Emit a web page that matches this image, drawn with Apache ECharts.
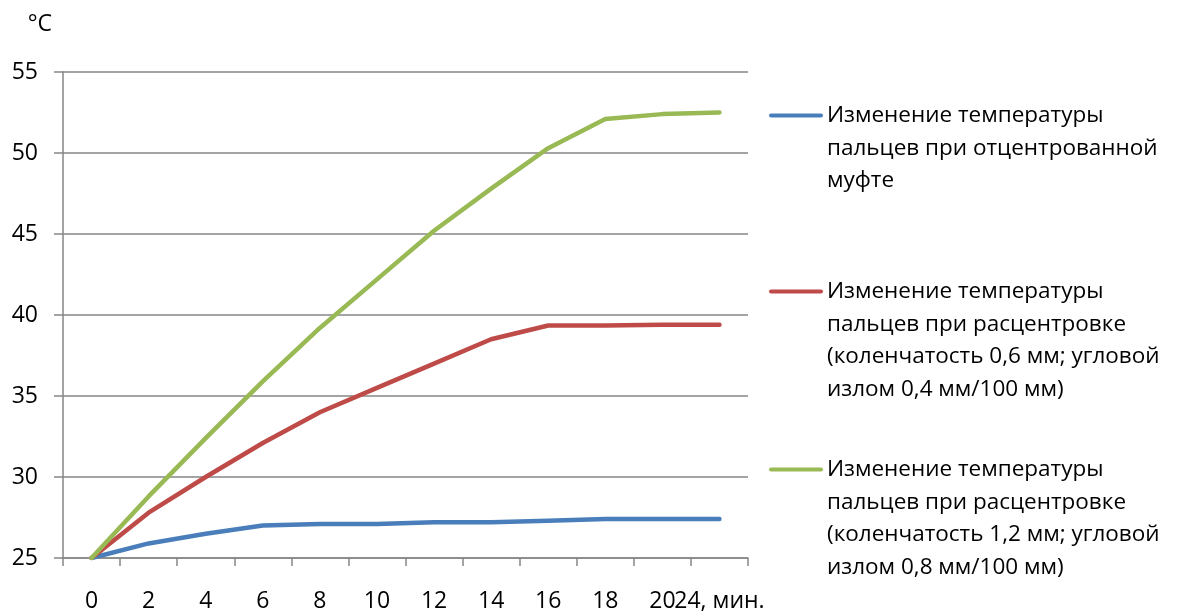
<!DOCTYPE html>
<html>
<head>
<meta charset="utf-8">
<script src="https://cdn.jsdelivr.net/npm/echarts@6/dist/echarts.min.js"></script>
<style>html,body{margin:0;padding:0;background:#fff}#c{width:1180px;height:613px}</style>
</head>
<body>
<div id="c"></div>
<script>
const categories = ['0','2','4','6','8','10','12','14','16','18','20','24, мин.'];
const centered = [25, 25.9, 26.5, 27.0, 27.1, 27.1, 27.2, 27.2, 27.3, 27.4, 27.4, 27.4];
const misaligned06 = [25, 27.8, 30.0, 32.1, 34.0, 35.5, 37.0, 38.5, 39.35, 39.35, 39.4, 39.4];
const misaligned12 = [25, 28.8, 32.4, 35.9, 39.2, 42.2, 45.2, 47.8, 50.3, 52.1, 52.4, 52.5];
const seriesNames = [
  'Изменение температуры\nпальцев при отцентрованной\nмуфте',
  'Изменение температуры\nпальцев при расцентровке\n(коленчатость 0,6 мм; угловой\nизлом 0,4 мм/100 мм)',
  'Изменение температуры\nпальцев при расцентровке\n(коленчатость 1,2 мм; угловой\nизлом 0,8 мм/100 мм)'
];
const colors = ['#4a7ebb', '#be4b48', '#98b954'];
const yTicks = {min: 25, max: 55, interval: 5};

const FONT = 'Open Sans';
const FS_LEG = 22.5;
const FS_AX = 23;
const LH = 32.7;

function legendFor(i, top) {
  const key = 'm' + i;
  const rich = {
    t: {fontFamily: FONT, fontSize: FS_LEG, lineHeight: LH, color: '#000'},
    sp: {width: 58, height: 4, lineHeight: LH}
  };
  rich[key] = {width: 54, height: 4, backgroundColor: colors[i], borderRadius: 2, lineHeight: LH};
  rich.g = {width: 4, lineHeight: LH};
  return {
    data: [seriesNames[i]],
    left: 764,
    top: top,
    orient: 'vertical',
    icon: 'none',
    itemWidth: 0,
    itemHeight: 0,
    itemGap: 0,
    selectedMode: false,
    padding: 0,
    textStyle: {rich: rich, padding: 0},
    formatter: function (name) {
      const lines = name.split('\n');
      return lines.map(function (l, j) {
        return (j === 0 ? '{' + key + '|}{g|}' : '{sp|}') + '{t|' + l + '}';
      }).join('\n');
    }
  };
}

const chart = echarts.init(document.getElementById('c'), null, {renderer: 'canvas'});
chart.setOption({
  animation: false,
  backgroundColor: '#fff',
  grid: {left: 63, right: 432, top: 72, bottom: 55, containLabel: false},
  legend: [legendFor(0, 104), legendFor(1, 280), legendFor(2, 458)],
  xAxis: {
    type: 'category',
    data: categories,
    boundaryGap: true,
    axisLine: {lineStyle: {color: '#868686', width: 1.5}},
    axisTick: {show: true, length: 8, lineStyle: {color: '#868686', width: 1.5}},
    axisLabel: {interval: 0, margin: 32, color: '#000', fontFamily: FONT, fontSize: FS_AX}
  },
  yAxis: {
    type: 'value',
    min: yTicks.min, max: yTicks.max, interval: yTicks.interval,
    name: '°C',
    nameLocation: 'end',
    nameGap: 36,
    nameTextStyle: {color: '#000', fontFamily: FONT, fontSize: FS_AX, align: 'right', padding: [0, 11, 0, 0]},
    axisLine: {show: true, lineStyle: {color: '#868686', width: 1.5}},
    axisTick: {show: true, length: 9, lineStyle: {color: '#868686', width: 1.5}},
    splitLine: {show: true, lineStyle: {color: '#868686', width: 1.5}},
    axisLabel: {margin: 25, color: '#000', fontFamily: FONT, fontSize: FS_AX}
  },
  series: [centered, misaligned06, misaligned12].map(function (d, i) {
    return {
      name: seriesNames[i],
      type: 'line',
      data: d,
      symbol: 'none',
      lineStyle: {color: colors[i], width: 4.5, cap: 'round', join: 'round'},
      itemStyle: {color: colors[i]},
      z: 3 + i
    };
  })
});
</script>
</body>
</html>
